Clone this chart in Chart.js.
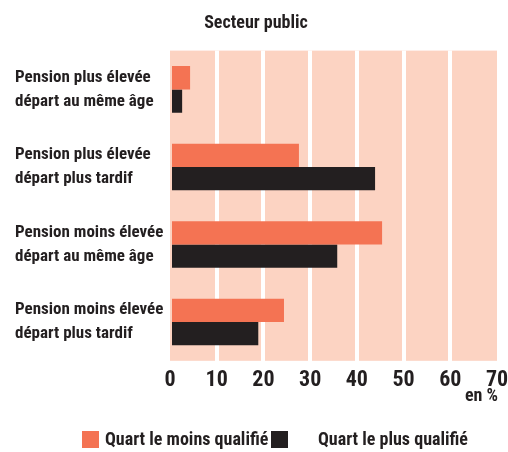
<!DOCTYPE html>
<html>
<head>
<meta charset="utf-8">
<script src="https://cdn.jsdelivr.net/npm/chart.js@4/dist/chart.umd.min.js"></script>
<style>
  html, body { margin: 0; padding: 0; background: #ffffff; }
  #wrap { width: 508px; height: 452px; }
</style>
</head>
<body>
<div id="wrap"><canvas id="c" width="508" height="452"></canvas></div>
<script>
// ---- data ----
const categories = [
  ['Pension plus élevée', 'départ au même âge'],
  ['Pension plus élevée', 'départ plus tardif'],
  ['Pension moins élevée', 'départ au même âge'],
  ['Pension moins élevée', 'départ plus tardif']
];
const seriesNames = ['Quart le moins qualifié', 'Quart le plus qualifié'];
const leastQualified = [4.3, 27.6, 45.4, 24.4];
const mostQualified = [2.6, 43.9, 35.8, 18.9];
const xTicks = [0, 10, 20, 30, 40, 50, 60, 70];
const titleText = 'Secteur public';
const unitText = 'en %';

// ---- style ----
const FONT = '"Roboto Condensed", Roboto, sans-serif';
const ORANGE = '#F47353';
const DARK = '#231F20';
const PEACH = '#FCD3C2';

const plotBg = {
  id: 'plotBg',
  beforeDraw(chart) {
    const {ctx, chartArea: a} = chart;
    ctx.save();
    ctx.fillStyle = PEACH;
    ctx.fillRect(a.left, a.top, a.right - a.left, a.bottom - a.top);
    ctx.restore();
  }
};

// unit label under the last tick + legend at the bottom
const extras = {
  id: 'extras',
  afterDraw(chart) {
    const {ctx, chartArea: a} = chart;
    ctx.save();
    ctx.fillStyle = DARK;
    ctx.font = 'bold 18px ' + FONT;
    ctx.textBaseline = 'middle';
    ctx.textAlign = 'right';
    ctx.fillText(unitText, a.right + 1, 396);

    const items = [
      {box: 82, text: 105},
      {box: 271, text: 318}
    ];
    ctx.textAlign = 'left';
    chart.data.datasets.forEach((ds, i) => {
      const it = items[i];
      ctx.fillStyle = ds.backgroundColor;
      ctx.fillRect(it.box, 431, 17, 17);
      ctx.fillStyle = DARK;
      ctx.fillText(ds.label, it.text, 440);
    });
    ctx.restore();
  }
};

new Chart(document.getElementById('c'), {
  type: 'bar',
  data: {
    labels: categories,
    datasets: [
      { label: seriesNames[0], data: leastQualified, backgroundColor: ORANGE },
      { label: seriesNames[1], data: mostQualified, backgroundColor: DARK }
    ]
  },
  options: {
    indexAxis: 'y',
    responsive: false,
    animation: false,
    devicePixelRatio: 1,
    layout: { padding: { left: 15, right: 11, top: 0, bottom: 51 } },
    datasets: { bar: { barPercentage: 1, categoryPercentage: 0.6, borderWidth: 0 } },
    plugins: {
      legend: { display: false },
      tooltip: { enabled: false },
      title: {
        display: true,
        text: titleText,
        color: DARK,
        font: { family: FONT, size: 18, weight: 'bold', lineHeight: 1.2 },
        padding: { top: 13, bottom: 16 }
      }
    },
    scales: {
      x: {
        type: 'linear',
        min: xTicks[0],
        max: xTicks[xTicks.length - 1],
        afterBuildTicks(scale) { scale.ticks = xTicks.map(v => ({ value: v })); },
        afterFit(scale) { scale.paddingLeft = 0; scale.paddingRight = 0; },
        border: { display: false },
        grid: {
          drawTicks: false,
          lineWidth: 4,
          color: (c) => (c.tick && (c.tick.value === xTicks[0] || c.tick.value === xTicks[xTicks.length - 1])) ? 'rgba(0,0,0,0)' : '#ffffff'
        },
        ticks: {
          color: DARK,
          padding: 8,
          maxRotation: 0,
          autoSkip: false,
          font: { family: FONT, size: 22, weight: 'bold', lineHeight: 1.1 }
        }
      },
      y: {
        border: { display: false },
        grid: { display: false, drawTicks: false },
        afterFit(scale) { scale.width = 155; },
        ticks: {
          color: DARK,
          crossAlign: 'far',
          padding: 0,
          autoSkip: false,
          font: { family: FONT, size: 17, weight: 'bold', lineHeight: 1.4 }
        }
      }
    }
  },
  plugins: [plotBg, extras]
});
</script>
</body>
</html>
